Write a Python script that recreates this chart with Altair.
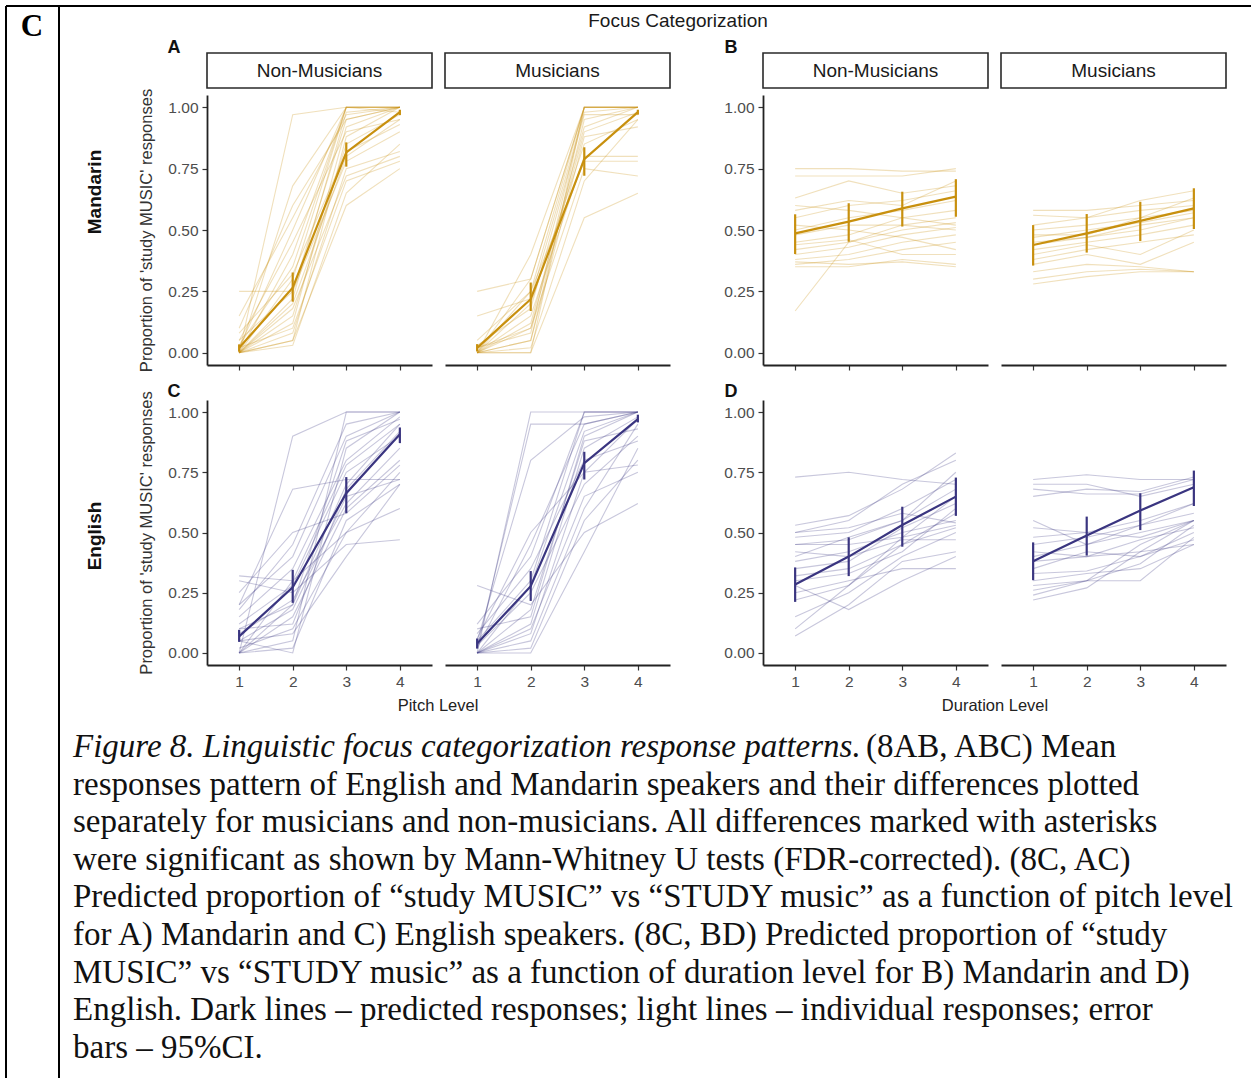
import altair as alt
import pandas as pd

LEVELS = [1, 2, 3, 4]
MANDARIN_COLOR = "#C8900E"
ENGLISH_COLOR = "#3A3580"

# ---- individual responses (one list per participant, levels 1..4) ----
A_NM = [
    [0.00, 0.97, 1.00, 1.00], [0.00, 0.68, 1.00, 1.00], [0.25, 0.25, 0.95, 1.00],
    [0.00, 0.05, 0.60, 0.75], [0.02, 0.10, 0.70, 0.78], [0.00, 0.30, 1.00, 1.00],
    [0.05, 0.45, 0.90, 0.95], [0.00, 0.08, 0.75, 0.82], [0.00, 0.15, 0.85, 0.97],
    [0.03, 0.35, 1.00, 1.00], [0.00, 0.20, 0.80, 0.95], [0.15, 0.55, 0.97, 1.00],
    [0.00, 0.03, 0.65, 0.85], [0.00, 0.12, 0.92, 1.00], [0.05, 0.25, 0.78, 0.90],
    [0.00, 0.40, 1.00, 0.98], [0.10, 0.60, 0.95, 1.00], [0.00, 0.18, 0.72, 0.80],
    [0.00, 0.05, 0.88, 1.00], [0.02, 0.50, 1.00, 1.00], [0.00, 0.22, 0.98, 1.00],
    [0.08, 0.32, 0.82, 0.93],
]
A_M = [
    [0.00, 0.00, 1.00, 1.00], [0.25, 0.30, 1.00, 1.00], [0.15, 0.22, 0.98, 1.00],
    [0.00, 0.05, 0.95, 1.00], [0.02, 0.10, 0.90, 0.98], [0.00, 0.20, 0.85, 0.95],
    [0.00, 0.15, 0.80, 0.80], [0.05, 0.25, 0.78, 0.78], [0.00, 0.00, 0.55, 0.65],
    [0.00, 0.10, 0.75, 0.72], [0.02, 0.08, 1.00, 1.00], [0.00, 0.30, 1.00, 1.00],
    [0.00, 0.12, 0.92, 1.00], [0.03, 0.18, 0.97, 0.97], [0.00, 0.05, 0.88, 0.92],
    [0.00, 0.25, 1.00, 1.00], [0.00, 0.40, 1.00, 1.00], [0.00, 0.02, 0.70, 0.95],
]
B_NM = [
    [0.75, 0.75, 0.74, 0.74], [0.72, 0.72, 0.72, 0.75], [0.63, 0.70, 0.65, 0.68],
    [0.58, 0.62, 0.60, 0.70], [0.55, 0.60, 0.62, 0.66], [0.50, 0.55, 0.58, 0.62],
    [0.48, 0.52, 0.52, 0.55], [0.45, 0.48, 0.55, 0.58], [0.42, 0.45, 0.50, 0.53],
    [0.40, 0.43, 0.48, 0.51], [0.38, 0.40, 0.45, 0.48], [0.36, 0.38, 0.42, 0.45],
    [0.35, 0.35, 0.38, 0.36], [0.17, 0.45, 0.52, 0.50], [0.52, 0.50, 0.47, 0.42],
    [0.44, 0.46, 0.40, 0.40], [0.60, 0.58, 0.55, 0.52], [0.37, 0.36, 0.37, 0.35],
]
B_M = [
    [0.58, 0.58, 0.60, 0.62], [0.56, 0.55, 0.62, 0.66], [0.52, 0.55, 0.58, 0.60],
    [0.50, 0.52, 0.55, 0.58], [0.47, 0.50, 0.53, 0.57], [0.45, 0.47, 0.50, 0.55],
    [0.42, 0.45, 0.48, 0.52], [0.40, 0.44, 0.40, 0.50], [0.38, 0.42, 0.45, 0.48],
    [0.36, 0.40, 0.36, 0.45], [0.33, 0.36, 0.35, 0.33], [0.30, 0.33, 0.34, 0.33],
    [0.28, 0.31, 0.33, 0.33], [0.48, 0.48, 0.55, 0.63], [0.44, 0.47, 0.52, 0.55],
]
C_NM = [
    [0.00, 0.90, 1.00, 1.00], [0.20, 0.68, 0.72, 0.72], [0.32, 0.30, 0.50, 0.60],
    [0.30, 0.25, 0.45, 0.47], [0.05, 0.00, 0.85, 1.00], [0.00, 0.05, 1.00, 1.00],
    [0.10, 0.20, 0.70, 0.95], [0.15, 0.35, 0.80, 0.98], [0.00, 0.15, 0.60, 0.80],
    [0.05, 0.18, 0.65, 0.72], [0.12, 0.28, 0.75, 0.90], [0.00, 0.02, 0.55, 0.70],
    [0.20, 0.40, 0.90, 1.00], [0.08, 0.22, 0.62, 0.85], [0.02, 0.10, 0.50, 0.75],
    [0.00, 0.30, 0.78, 0.95], [0.10, 0.12, 0.68, 0.92], [0.18, 0.45, 0.95, 1.00],
    [0.05, 0.08, 0.40, 0.70], [0.00, 0.20, 0.88, 0.97], [0.25, 0.50, 0.58, 0.78],
]
C_M = [
    [0.00, 1.00, 1.00, 1.00], [0.02, 0.95, 0.95, 1.00], [0.05, 0.80, 0.98, 1.00],
    [0.28, 0.20, 0.50, 0.62], [0.00, 0.00, 0.42, 0.85], [0.00, 0.05, 0.60, 0.95],
    [0.10, 0.15, 0.90, 1.00], [0.05, 0.30, 1.00, 1.00], [0.00, 0.12, 0.85, 0.98],
    [0.03, 0.25, 0.70, 0.90], [0.00, 0.02, 0.55, 0.80], [0.08, 0.35, 0.80, 0.88],
    [0.00, 0.10, 0.65, 0.75], [0.02, 0.45, 0.95, 1.00], [0.00, 0.08, 0.75, 0.97],
    [0.12, 0.40, 1.00, 1.00], [0.00, 0.18, 0.88, 0.93], [0.06, 0.50, 0.75, 0.78],
    [0.00, 0.28, 0.92, 1.00],
]
D_NM = [
    [0.73, 0.75, 0.72, 0.70], [0.53, 0.57, 0.68, 0.83], [0.50, 0.55, 0.70, 0.80],
    [0.48, 0.50, 0.60, 0.72], [0.45, 0.47, 0.55, 0.68], [0.45, 0.45, 0.48, 0.53],
    [0.42, 0.40, 0.47, 0.47], [0.38, 0.42, 0.50, 0.55], [0.35, 0.38, 0.52, 0.62],
    [0.32, 0.35, 0.45, 0.52], [0.30, 0.33, 0.42, 0.60], [0.28, 0.18, 0.30, 0.40],
    [0.25, 0.30, 0.35, 0.35], [0.22, 0.28, 0.45, 0.58], [0.15, 0.25, 0.40, 0.50],
    [0.10, 0.28, 0.48, 0.65], [0.07, 0.20, 0.38, 0.42], [0.40, 0.48, 0.55, 0.75],
    [0.50, 0.52, 0.58, 0.54],
]
D_M = [
    [0.72, 0.74, 0.72, 0.72], [0.70, 0.70, 0.65, 0.70], [0.68, 0.66, 0.66, 0.72],
    [0.65, 0.68, 0.67, 0.73], [0.55, 0.45, 0.53, 0.62], [0.52, 0.50, 0.48, 0.55],
    [0.48, 0.50, 0.55, 0.62], [0.45, 0.48, 0.53, 0.58], [0.42, 0.40, 0.47, 0.52],
    [0.40, 0.45, 0.50, 0.55], [0.38, 0.40, 0.42, 0.45], [0.35, 0.42, 0.40, 0.50],
    [0.30, 0.33, 0.35, 0.45], [0.28, 0.30, 0.37, 0.53], [0.26, 0.30, 0.45, 0.55],
    [0.24, 0.30, 0.30, 0.48], [0.22, 0.27, 0.42, 0.55], [0.33, 0.34, 0.40, 0.47],
]

# ---- predicted means with 95% CI ----
MEAN_A_NM = [0.02, 0.265, 0.816, 0.98]
LO_A_NM = [0.004, 0.208, 0.758, 0.968]
HI_A_NM = [0.034, 0.327, 0.857, 0.99]
MEAN_A_M = [0.02, 0.218, 0.789, 0.98]
LO_A_M = [0.005, 0.17, 0.721, 0.97]
HI_A_M = [0.035, 0.286, 0.837, 0.99]
MEAN_B_NM = [0.486, 0.534, 0.588, 0.636]
LO_B_NM = [0.402, 0.452, 0.514, 0.554]
HI_B_NM = [0.564, 0.609, 0.656, 0.707]
MEAN_B_M = [0.439, 0.486, 0.537, 0.588]
LO_B_M = [0.355, 0.408, 0.455, 0.504]
HI_B_M = [0.52, 0.565, 0.615, 0.67]
MEAN_C_NM = [0.069, 0.272, 0.663, 0.908]
LO_C_NM = [0.046, 0.208, 0.58, 0.871]
HI_C_NM = [0.096, 0.345, 0.73, 0.936]
MEAN_C_M = [0.039, 0.277, 0.788, 0.971]
LO_C_M = [0.018, 0.216, 0.72, 0.957]
HI_C_M = [0.06, 0.34, 0.835, 0.989]
MEAN_D_NM = [0.284, 0.40, 0.531, 0.649]
LO_D_NM = [0.212, 0.319, 0.441, 0.569]
HI_D_NM = [0.355, 0.48, 0.607, 0.728]
MEAN_D_M = [0.381, 0.488, 0.591, 0.688]
LO_D_M = [0.302, 0.404, 0.51, 0.61]
HI_D_M = [0.459, 0.566, 0.663, 0.757]

Y_TICKS = [0.0, 0.25, 0.5, 0.75, 1.0]
Y_TITLE = "Proportion of 'study MUSIC' responses"
STRIPS = ["Non-Musicians", "Musicians"]
CAPTION_ITALIC = "Figure 8. Linguistic focus categorization response patterns."
CAPTION_LINES = [
    "(8AB, ABC) Mean",
    "responses pattern of English and Mandarin speakers and their differences plotted",
    "separately for musicians and non-musicians. All differences marked with asterisks",
    "were significant as shown by Mann-Whitney U tests (FDR-corrected). (8C, AC)",
    "Predicted proportion of \u201cstudy MUSIC\u201d vs \u201cSTUDY music\u201d as a function of pitch level",
    "for A) Mandarin and C) English speakers. (8C, BD) Predicted proportion of \u201cstudy",
    "MUSIC\u201d vs \u201cSTUDY music\u201d as a function of duration level for B) Mandarin and D)",
    "English. Dark lines \u2013 predicted responses; light lines \u2013 individual responses; error",
    "bars \u2013 95%CI.",
]

PW = 225
H1 = 270
H2 = 265
SANS = "Liberation Sans"
SERIF = "Liberation Serif"
ONE = pd.DataFrame({"k": [0]})
TICK_FS = 15.5


def text_layer(txt, x, y, size, weight="normal", angle=0, color="#111", font=SANS, align="center", style="normal"):
    return alt.Chart(ONE).mark_text(
        fontSize=size, fontWeight=weight, angle=angle, color=color, font=font,
        align=align, baseline="middle", fontStyle=style,
    ).encode(x=alt.value(x), y=alt.value(y), text=alt.value(txt))


def panel(indiv, mean, lo, hi, color, show_y, show_title, show_xlabels, height, extras):
    rows = []
    for pid, vals in enumerate(indiv):
        for lv, v in zip(LEVELS, vals):
            rows.append({"pid": pid, "level": lv, "p": v})
    df_ind = pd.DataFrame(rows)
    df_mean = pd.DataFrame({"level": LEVELS, "p": mean, "lo": lo, "hi": hi})

    xaxis = alt.Axis(values=LEVELS, format="d", labels=show_xlabels, title=None, grid=False,
                     domainColor="#222", domainWidth=1.8, tickColor="#333", tickSize=5,
                     tickWidth=1.2, labelColor="#4d4d4d", labelFontSize=TICK_FS, labelPadding=4,
                     labelFont=SANS)
    if show_y:
        ykw = dict(values=Y_TICKS, format=".2f", grid=False,
                   domainColor="#222", domainWidth=1.8, tickColor="#333", tickSize=5,
                   tickWidth=1.2, labelColor="#4d4d4d", labelFontSize=TICK_FS, labelPadding=4,
                   labelFont=SANS)
        if show_title:
            ykw.update(title=Y_TITLE, titleFont=SANS, titleFontSize=16.5, titleFontWeight="normal",
                       titleColor="#333", titleX=-61, titleY=height / 2, titleBaseline="middle",
                       titleAlign="center", titleAngle=270)
        else:
            ykw.update(title="")
        yaxis = alt.Axis(**ykw)
    else:
        yaxis = None
    xs = alt.Scale(domain=[0.4, 4.6], nice=False, zero=False)
    ys = alt.Scale(domain=[-0.05, 1.05], nice=False, zero=False)
    X = alt.X("level:Q", scale=xs, axis=xaxis)
    Y = alt.Y("p:Q", scale=ys, axis=yaxis)

    light = alt.Chart(df_ind).mark_line(strokeWidth=1.1, opacity=0.28, color=color).encode(
        x=X, y=Y, detail="pid:N")
    mline = alt.Chart(df_mean).mark_line(strokeWidth=2.2, color=color).encode(x=X, y=Y)
    err = alt.Chart(df_mean).mark_rule(strokeWidth=2.2, color=color).encode(
        x=X, y=alt.Y("lo:Q", scale=ys, axis=yaxis), y2="hi:Q")
    return alt.layer(light, mline, err, *extras).properties(width=PW, height=height)


def strip(label):
    rect = alt.Chart(ONE).mark_rect(fill="white", stroke="#2a2a2a", strokeWidth=1.6).encode(
        x=alt.value(0), x2=alt.value(PW), y=alt.value(-42), y2=alt.value(-7))
    return [rect, text_layer(label, PW / 2, -24.5, 19, color="#1a1a1a")]


# table cell decorations (relative to the first panel's origin)
left_border = alt.Chart(ONE).mark_rule(color="#000", strokeWidth=2).encode(
    x=alt.value(-201), y=alt.value(-89), y2=alt.value(983))
divider = alt.Chart(ONE).mark_rule(color="#000", strokeWidth=2).encode(
    x=alt.value(-148), y=alt.value(-89), y2=alt.value(983))
top_border = alt.Chart(ONE).mark_rule(color="#000", strokeWidth=2).encode(
    x=alt.value(-201), x2=alt.value(1044), y=alt.value(-89))
cell_label = text_layer("C", -175, -68, 31, "bold", color="#000", font=SERIF)

pA_nm = panel(A_NM, MEAN_A_NM, LO_A_NM, HI_A_NM, MANDARIN_COLOR, True, True, False, H1,
              strip(STRIPS[0]) + [text_layer("A", -33, -47, 18, "bold"),
                                  text_layer("Mandarin", -112, 97, 19, "bold", angle=270),
                                  left_border, divider, top_border, cell_label])
pA_m = panel(A_M, MEAN_A_M, LO_A_M, HI_A_M, MANDARIN_COLOR, False, False, False, H1, strip(STRIPS[1]))
sp1 = alt.layer(
    text_layer("B", 48, -47, 18, "bold"),
    text_layer("Focus Categorization", -5, -74, 19, color="#1a1a1a"),
).properties(width=67, height=H1)
pB_nm = panel(B_NM, MEAN_B_NM, LO_B_NM, HI_B_NM, MANDARIN_COLOR, True, False, False, H1, strip(STRIPS[0]))
pB_m = panel(B_M, MEAN_B_M, LO_B_M, HI_B_M, MANDARIN_COLOR, False, False, False, H1, strip(STRIPS[1]))

pC_nm = panel(C_NM, MEAN_C_NM, LO_C_NM, HI_C_NM, ENGLISH_COLOR, True, True, True, H2,
              [text_layer("C", -33, -8, 18, "bold"),
               text_layer("English", -112, 136, 19, "bold", angle=270),
               text_layer("Pitch Level", 231, 306, 16.5, color="#222")])
pC_m = panel(C_M, MEAN_C_M, LO_C_M, HI_C_M, ENGLISH_COLOR, False, False, True, H2, [])
sp2 = alt.layer(text_layer("D", 48, -8, 18, "bold")).properties(width=67, height=H2)
pD_nm = panel(D_NM, MEAN_D_NM, LO_D_NM, HI_D_NM, ENGLISH_COLOR, True, False, True, H2,
              [text_layer("Duration Level", 232, 306, 16.5, color="#222")])
pD_m = panel(D_M, MEAN_D_M, LO_D_M, HI_D_M, ENGLISH_COLOR, False, False, True, H2, [])

# ---- caption ----
CAP_FS = 33
cap_df = pd.DataFrame({"line": list(range(len(CAPTION_LINES))), "txt": CAPTION_LINES})
cap_y = alt.Scale(domain=[0, 8], range=[47, 47 + 8 * 37.6])
body = alt.Chart(cap_df[cap_df.line > 0]).mark_text(
    font=SERIF, fontSize=CAP_FS, align="left", baseline="middle", color="#111").encode(
    x=alt.value(-134), y=alt.Y("line:Q", scale=cap_y, axis=None), text="txt:N")
head_tail = alt.Chart(cap_df[cap_df.line == 0]).mark_text(
    font=SERIF, fontSize=CAP_FS, align="left", baseline="middle", color="#111").encode(
    x=alt.value(659), y=alt.Y("line:Q", scale=cap_y, axis=None), text="txt:N")
head_it = alt.Chart(pd.DataFrame({"line": [0], "txt": [CAPTION_ITALIC]})).mark_text(
    font=SERIF, fontSize=CAP_FS, fontStyle="italic", align="left", baseline="middle", color="#111").encode(
    x=alt.value(-134), y=alt.Y("line:Q", scale=cap_y, axis=None), text="txt:N")
caption = alt.layer(body, head_tail, head_it).properties(width=PW, height=378)

chart = alt.concat(
    pA_nm, pA_m, sp1, pB_nm, pB_m,
    pC_nm, pC_m, sp2, pD_nm, pD_m,
    caption,
    columns=5, spacing={"row": 35, "column": 13}, bounds="flush", align="each",
).properties(
    padding={"left": 5, "top": 5, "right": 0, "bottom": 0},
    background="white",
).configure(font=SANS).configure_view(stroke="transparent", strokeWidth=0)

chart.save("out.html", embed_options={"renderer": "svg", "actions": False})
